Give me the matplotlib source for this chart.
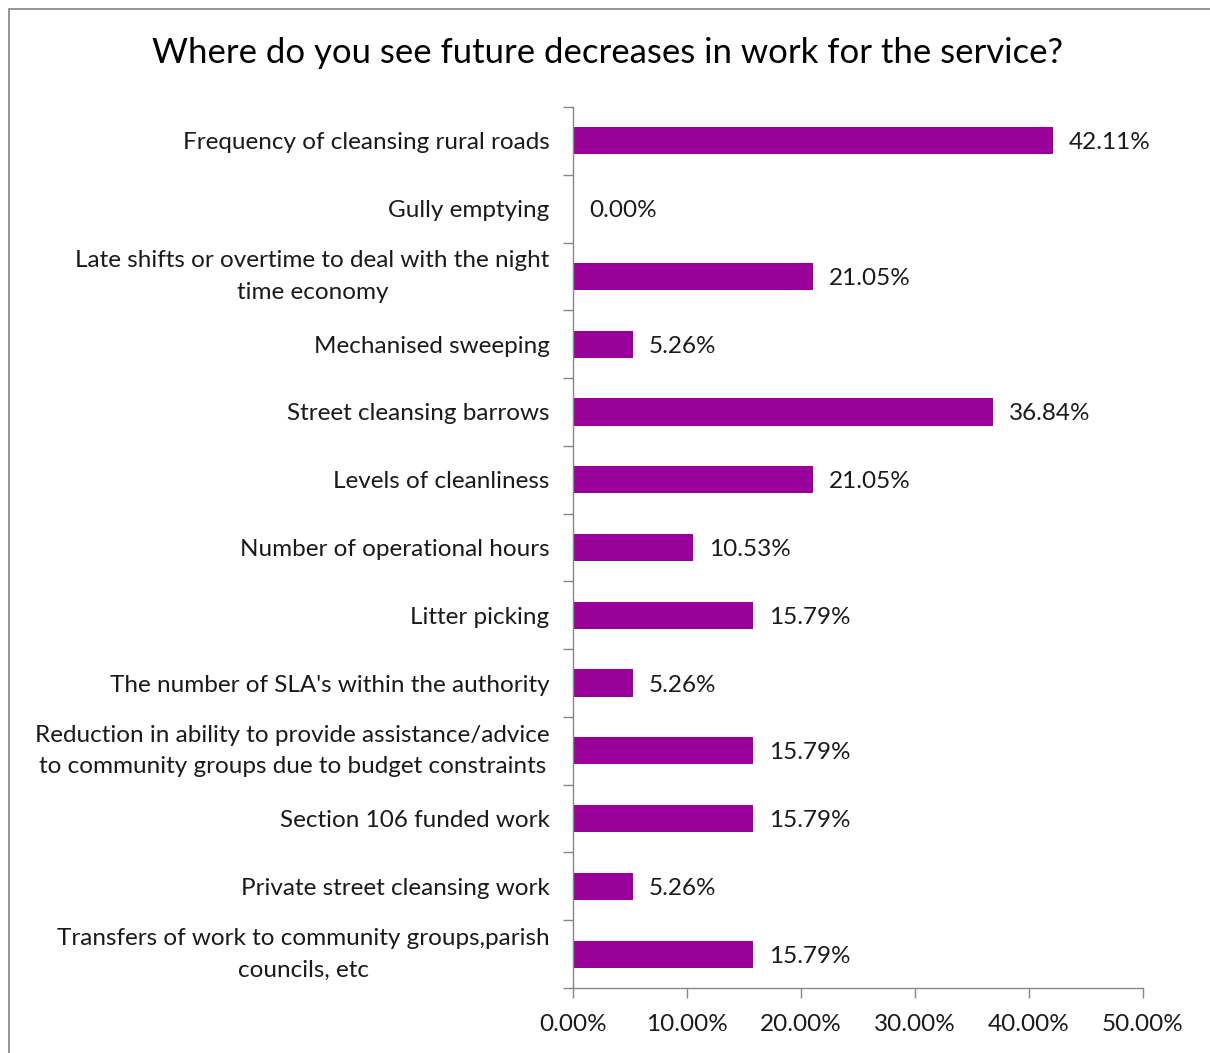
import matplotlib.pyplot as plt
import numpy as np
from matplotlib.patches import Rectangle
from matplotlib.ticker import FuncFormatter

plt.rcParams["font.family"] = ["Lato", "DejaVu Sans"]

title = "Where do you see future decreases in work for the service?"
categories = [
    "Frequency of cleansing rural roads",
    "Gully emptying",
    "Late shifts or overtime to deal with the night\ntime economy",
    "Mechanised sweeping",
    "Street cleansing barrows",
    "Levels of cleanliness",
    "Number of operational hours",
    "Litter picking",
    "The number of SLA's within the authority",
    "Reduction in ability to provide assistance/advice\nto community groups due to budget constraints",
    "Section 106 funded work",
    "Private street cleansing work",
    "Transfers of work to community groups,parish\ncouncils, etc",
]
values = [42.11, 0.00, 21.05, 5.26, 36.84, 21.05, 10.53, 15.79, 5.26, 15.79, 15.79, 5.26, 15.79]
x_ticks = [0, 10, 20, 30, 40, 50]

bar_color = "#990099"
axis_color = "#868686"
text_color = "#1a1a1a"

fig = plt.figure(figsize=(12.10, 10.53), dpi=100)
ax = fig.add_axes([0.4736, 0.0617, 0.9446 - 0.4736, 0.8984 - 0.0617])

# outer chart frame (left and top edges only show)
fig.patches.append(Rectangle((9 / 1210, -0.1), 1.2, 1 - 9 / 1053 + 0.1,
                             transform=fig.transFigure, fill=False,
                             edgecolor="#8c8c8c", linewidth=1.3))

y = np.arange(len(categories))
ax.barh(y, values, height=0.4, color=bar_color)
for yi, v in zip(y, values):
    ax.text(v + 1.4, yi, f"{v:.2f}%", va="center_baseline", ha="left",
            fontsize=17.5, color=text_color)

ax.set_xlim(0, 50)
ax.set_ylim(len(categories) - 0.5, -0.5)
ax.set_xticks(x_ticks)
ax.xaxis.set_major_formatter(FuncFormatter(lambda v, _: f"{v:.2f}%"))

# category labels centred on bars, tick marks on the boundaries
ax.set_yticks(y)
ax.set_yticklabels(categories, fontsize=17.5, color=text_color, linespacing=1.62)
ax.set_yticks(np.arange(-0.5, len(categories), 1), minor=True)
ax.tick_params(axis="y", which="major", length=0, pad=17)
ax.tick_params(axis="y", which="minor", length=7, width=1, color=axis_color)
ax.tick_params(axis="x", length=7, width=1, color=axis_color,
               labelsize=17.5, labelcolor=text_color, pad=12)
for lbl in ax.get_yticklabels():
    lbl.set_horizontalalignment("right")
    lbl.set_multialignment("center")
    if "\n" in lbl.get_text():
        lbl.set_verticalalignment("center")

for side in ("top", "right"):
    ax.spines[side].set_visible(False)
for side in ("left", "bottom"):
    ax.spines[side].set_color(axis_color)
    ax.spines[side].set_linewidth(1)

fig.text(0.502, 1 - 53 / 1053, title, ha="center", va="center",
         fontsize=25, color="black")

fig.savefig("out.png", dpi=100)
